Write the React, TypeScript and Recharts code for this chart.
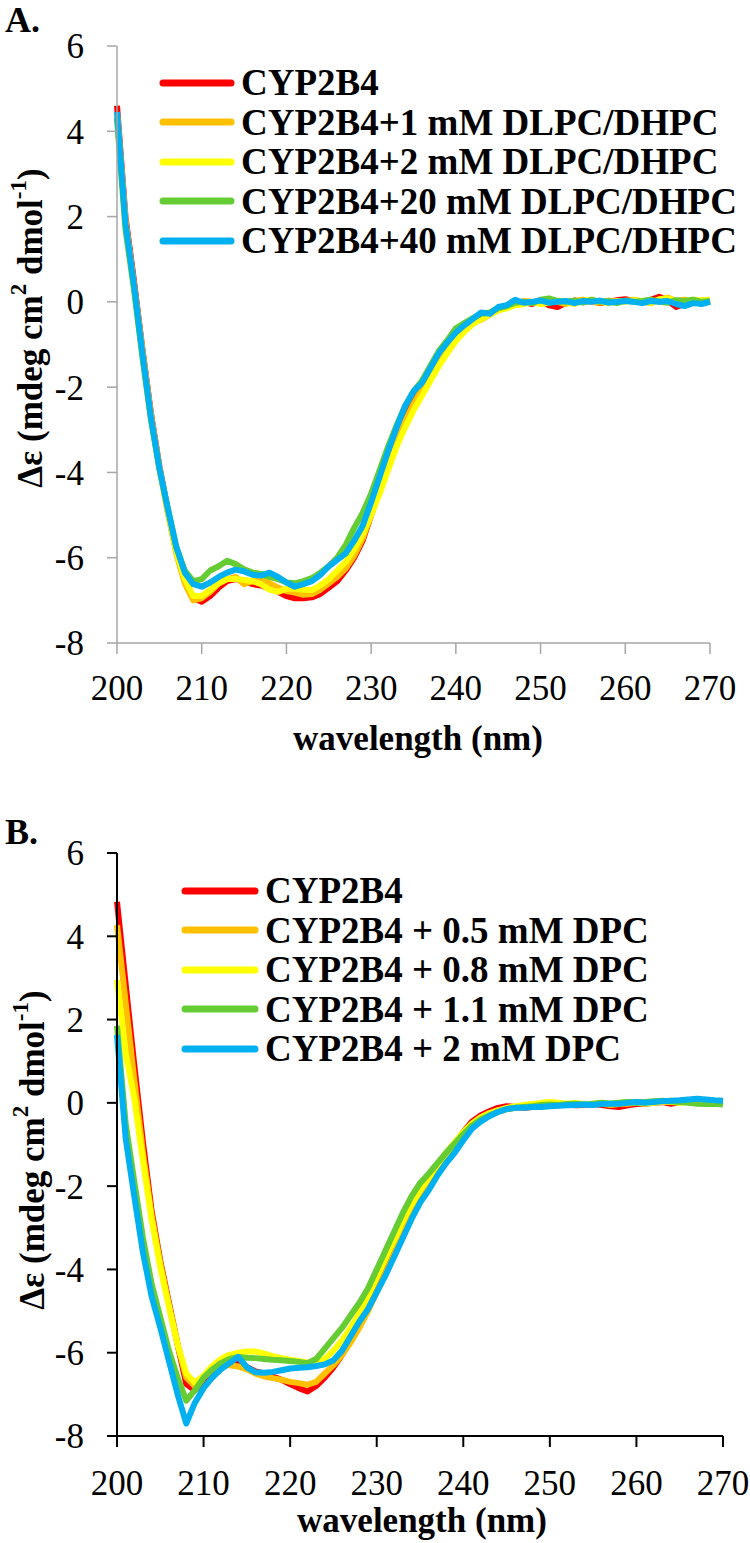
import React from 'react';
import { LineChart, Line, XAxis, YAxis, Legend, Label } from 'recharts';

// wavelength grid, 1 nm steps
const wavelengths = [
  200, 201, 202, 203, 204, 205, 206, 207, 208, 209, 210, 211, 212, 213, 214, 215, 216, 217, 218, 219,
  220, 221, 222, 223, 224, 225, 226, 227, 228, 229, 230, 231, 232, 233, 234, 235, 236, 237, 238, 239,
  240, 241, 242, 243, 244, 245, 246, 247, 248, 249, 250, 251, 252, 253, 254, 255, 256, 257, 258, 259,
  260, 261, 262, 263, 264, 265, 266, 267, 268, 269, 270,
];
const xTicks = [200, 210, 220, 230, 240, 250, 260, 270];
const yTicks = [-8, -6, -4, -2, 0, 2, 4, 6];

// Panel A - DLPC/DHPC bicelles
const namesA = [
  'CYP2B4',
  'CYP2B4+1 mM DLPC/DHPC',
  'CYP2B4+2 mM DLPC/DHPC',
  'CYP2B4+20 mM DLPC/DHPC',
  'CYP2B4+40 mM DLPC/DHPC',
];
const redA = [
  4.6, 2.0, 0.5, -1.1, -2.6, -3.85, -4.9, -5.85, -6.55, -6.95, -7.03, -6.9, -6.7, -6.55, -6.5, -6.55, -6.62, -6.65, -6.72, -6.8,
  -6.9, -6.95, -6.95, -6.93, -6.85, -6.7, -6.55, -6.3, -6.0, -5.6, -5.0, -4.35, -3.75, -3.25, -2.75, -2.35, -2.0, -1.7, -1.4, -1.1,
  -0.85, -0.65, -0.5, -0.38, -0.28, -0.18, -0.12, -0.05, 0.0, -0.05, 0.02, -0.08, -0.12, -0.02, 0.03, 0.0, 0.02, -0.03, 0.0, 0.04,
  0.06, 0.02, 0.0, 0.05, 0.12, 0.03, -0.12, -0.05, 0.02, 0.0, 0.02,
];
const orangeA = [
  4.4, 1.9, 0.4, -1.15, -2.65, -3.9, -4.95, -5.9, -6.6, -7.0, -6.95, -6.8, -6.6, -6.5, -6.45, -6.62, -6.55, -6.5, -6.6, -6.7,
  -6.78, -6.82, -6.87, -6.85, -6.75, -6.6, -6.45, -6.25, -5.95, -5.55, -5.0, -4.4, -3.8, -3.3, -2.8, -2.4, -2.05, -1.75, -1.45, -1.1,
  -0.85, -0.62, -0.48, -0.42, -0.3, -0.2, -0.1, -0.05, 0.02, 0.0, -0.03, 0.02, 0.0, -0.05, 0.02, 0.05, 0.0, -0.02, 0.03, 0.0,
  0.02, 0.05, 0.0, -0.03, 0.05, 0.1, 0.02, 0.05, 0.0, 0.03, 0.05,
];
const yellowA = [
  4.4, 1.85, 0.35, -1.2, -2.7, -3.9, -4.9, -5.85, -6.5, -6.9, -6.9, -6.75, -6.6, -6.5, -6.5, -6.52, -6.55, -6.62, -6.75, -6.8,
  -6.73, -6.72, -6.75, -6.76, -6.65, -6.5, -6.3, -6.1, -5.8, -5.45, -5.0, -4.5, -3.95, -3.4, -2.95, -2.55, -2.2, -1.85, -1.5, -1.2,
  -0.92, -0.7, -0.52, -0.4, -0.3, -0.2, -0.15, -0.08, -0.05, 0.0, -0.05, -0.02, 0.03, 0.0, -0.05, 0.02, 0.05, 0.0, -0.03, 0.02,
  0.0, 0.04, 0.02, -0.02, 0.06, 0.08, 0.02, 0.0, 0.05, 0.03, 0.05,
];
const greenA = [
  4.3, 1.7, 0.3, -1.3, -2.75, -3.9, -4.85, -5.75, -6.3, -6.55, -6.5, -6.3, -6.2, -6.07, -6.15, -6.27, -6.35, -6.38, -6.45, -6.5,
  -6.58, -6.6, -6.55, -6.48, -6.35, -6.2, -6.0, -5.7, -5.3, -4.95, -4.5, -3.95, -3.4, -2.9, -2.45, -2.1, -1.85, -1.5, -1.15, -0.9,
  -0.62, -0.5, -0.38, -0.28, -0.25, -0.15, -0.1, -0.02, 0.0, -0.03, 0.05, 0.08, 0.02, 0.0, 0.03, -0.02, 0.05, 0.0, 0.02, -0.03,
  0.03, 0.0, 0.02, 0.05, 0.0, -0.02, 0.04, 0.02, 0.05, 0.0, 0.02,
];
const blueA = [
  4.45, 1.85, 0.4, -1.2, -2.7, -3.9, -4.85, -5.75, -6.35, -6.62, -6.68, -6.58, -6.45, -6.35, -6.28, -6.32, -6.4, -6.42, -6.35, -6.45,
  -6.58, -6.68, -6.62, -6.55, -6.4, -6.2, -6.05, -5.9, -5.6, -5.25, -4.7, -4.1, -3.5, -2.95, -2.45, -2.1, -1.9, -1.55, -1.2, -0.95,
  -0.72, -0.55, -0.4, -0.25, -0.28, -0.12, -0.08, 0.05, -0.02, 0.0, 0.03, -0.02, 0.0, 0.02, -0.03, 0.02, 0.0, 0.03, -0.02, 0.0,
  0.02, 0.0, -0.03, 0.02, 0.0, 0.02, -0.05, -0.1, -0.03, -0.05, 0.0,
];

// Panel B - DPC micelles
const namesB = [
  'CYP2B4',
  'CYP2B4 + 0.5 mM DPC',
  'CYP2B4 + 0.8 mM DPC',
  'CYP2B4 + 1.1 mM DPC',
  'CYP2B4 + 2 mM DPC',
];
const redB = [
  4.83, 2.85, 0.9, -0.95, -2.6, -3.8, -4.8, -5.8, -6.75, -6.9, -6.7, -6.45, -6.3, -6.25, -6.25, -6.35, -6.45, -6.5, -6.57, -6.65,
  -6.75, -6.85, -6.93, -6.8, -6.6, -6.35, -6.05, -5.7, -5.35, -4.95, -4.5, -4.05, -3.6, -3.1, -2.7, -2.3, -1.95, -1.6, -1.3, -1.0,
  -0.7, -0.45, -0.3, -0.2, -0.12, -0.08, -0.1, -0.12, -0.1, -0.08, -0.06, -0.05, -0.04, -0.06, -0.05, -0.03, -0.05, -0.08, -0.1, -0.06,
  -0.03, -0.02, 0.0, 0.02, -0.02, 0.02, 0.05, 0.03, 0.05, 0.04, 0.03,
];
const orangeB = [
  4.27, 2.4, 0.55, -1.2, -2.7, -3.85, -4.85, -5.8, -6.6, -6.8, -6.6, -6.4, -6.3, -6.3, -6.33, -6.4, -6.5, -6.57, -6.61, -6.65,
  -6.7, -6.73, -6.77, -6.7, -6.5, -6.3, -6.05, -5.75, -5.4, -5.0, -4.55, -4.1, -3.65, -3.15, -2.75, -2.35, -2.0, -1.65, -1.35, -1.05,
  -0.75, -0.5, -0.35, -0.25, -0.18, -0.15, -0.12, -0.1, -0.1, -0.06, -0.05, -0.06, -0.03, -0.05, -0.02, -0.04, -0.02, -0.05, -0.03, -0.02,
  0.0, 0.02, 0.0, 0.02, 0.05, 0.02, 0.03, 0.05, 0.03, 0.02, 0.03,
];
const yellowB = [
  2.95, 1.2, 0.1, -1.4, -2.8, -3.95, -4.9, -5.8, -6.5, -6.72, -6.55, -6.32, -6.15, -6.05, -6.0, -5.97, -5.97, -6.02, -6.08, -6.13,
  -6.17, -6.2, -6.24, -6.25, -6.15, -5.95, -5.7, -5.4, -5.05, -4.65, -4.2, -3.75, -3.3, -2.85, -2.45, -2.1, -1.8, -1.5, -1.2, -0.95,
  -0.7, -0.5, -0.35, -0.25, -0.18, -0.12, -0.08, -0.05, -0.03, 0.0, 0.02, 0.0, -0.02, 0.0, -0.03, -0.02, 0.0, -0.02, 0.0, 0.02,
  0.0, -0.02, 0.0, 0.03, 0.02, 0.0, 0.02, 0.0, 0.02, 0.0, 0.0,
];
const greenB = [
  1.85, -0.5, -1.9, -3.25, -4.35, -5.15, -5.95, -6.6, -7.15, -6.9, -6.6, -6.4, -6.25, -6.15, -6.1, -6.12, -6.13, -6.15, -6.17, -6.18,
  -6.2, -6.22, -6.25, -6.15, -5.9, -5.65, -5.4, -5.1, -4.8, -4.45, -4.0, -3.55, -3.1, -2.65, -2.25, -1.93, -1.7, -1.45, -1.2, -0.98,
  -0.75, -0.55, -0.4, -0.3, -0.22, -0.15, -0.12, -0.1, -0.08, -0.05, -0.04, -0.05, -0.03, -0.02, -0.04, -0.02, 0.0, -0.02, 0.0, 0.02,
  0.0, 0.02, 0.04, 0.05, 0.03, 0.02, 0.0, -0.02, -0.03, -0.02, -0.04,
];
const blueB = [
  1.63, -0.85, -2.25, -3.6, -4.65, -5.4, -6.2, -7.0, -7.7, -7.2, -6.85, -6.6, -6.4, -6.25, -6.1, -6.35, -6.47, -6.48, -6.46, -6.42,
  -6.38, -6.36, -6.35, -6.32, -6.28, -6.18, -5.95, -5.6, -5.25, -4.95, -4.55, -4.15, -3.7, -3.25, -2.8, -2.4, -2.1, -1.75, -1.45, -1.2,
  -0.9, -0.62, -0.45, -0.32, -0.22, -0.15, -0.12, -0.12, -0.1, -0.1, -0.08, -0.07, -0.06, -0.05, -0.04, -0.05, -0.03, -0.02, -0.02, 0.0,
  0.02, 0.0, 0.02, 0.04, 0.05, 0.06, 0.08, 0.1, 0.08, 0.06, 0.05,
];

const colors = ['#FF0000', '#FFC000', '#FFFF00', '#66CC33', '#00B0F0'];
const keys = ['s0', 's1', 's2', 's3', 's4'];

const buildRows = (series: number[][]) =>
  wavelengths.map((wl, i) => {
    const row: Record<string, number> = { wl };
    series.forEach((s, k) => (row[keys[k]] = s[i]));
    return row;
  });

const dataA = buildRows([redA, orangeA, yellowA, greenA, blueA]);
const dataB = buildRows([redB, orangeB, yellowB, greenB, blueB]);

const SERIF = '"Liberation Serif", "Times New Roman", serif';

// custom legend: short thick line + bold label
const makeLegend = (names: string[], lineW: number) => () => (
  <div style={{ fontFamily: SERIF, fontWeight: 'bold', fontSize: 37 }}>
    {names.map((n, i) => (
      <div key={n} style={{ display: 'flex', alignItems: 'center', height: 39.5, lineHeight: '39.5px' }}>
        <svg width={lineW} height={10} style={{ marginRight: 6 }}>
          <line x1={4} y1={5} x2={lineW - 4} y2={5} stroke={colors[i]} strokeWidth={7} strokeLinecap="round" />
        </svg>
        <span style={{ whiteSpace: 'nowrap' }}>{n}</span>
      </div>
    ))}
  </div>
);

const YTitle = ({ cx, cy }: { cx: number; cy: number }) => (
  <text
    x={cx}
    y={cy}
    transform={`rotate(-90, ${cx}, ${cy})`}
    textAnchor="middle"
    dominantBaseline="central"
    fontFamily={SERIF}
    fontWeight="bold"
    fontSize={35}
    fill="#000"
  >
    Δε (mdeg cm
    <tspan dy={-12} fontSize={23}>2</tspan>
    <tspan dy={12}> dmol</tspan>
    <tspan dy={-12} fontSize={23}>-1</tspan>
    <tspan dy={12}>)</tspan>
  </text>
);

const XTitle = ({ cx, cy }: { cx: number; cy: number }) => (
  <text x={cx} y={cy} textAnchor="middle" dominantBaseline="central" fontFamily={SERIF} fontWeight="bold" fontSize={35} fill="#000">
    wavelength (nm)
  </text>
);

interface PanelProps {
  data: Record<string, number>[];
  names: string[];
  height: number;
  margin: { top: number; right: number; left: number; bottom: number };
  axisColor: string;
  axisWidth: number;
  xTickMargin: number;
  legendPos: { left: number; top: number };
  legendLineW: number;
  yTitle: { cx: number; cy: number };
  xTitle: { cx: number; cy: number };
}

// note: XAxis height (30) and YAxis width (60) are added to the margins
const Panel = (p: PanelProps) => (
  <LineChart width={750} height={p.height} data={p.data} margin={p.margin}>
    <XAxis
      dataKey="wl"
      type="number"
      domain={[200, 270]}
      ticks={xTicks}
      interval={0}
      height={30}
      tickSize={11}
      tickMargin={p.xTickMargin}
      stroke={p.axisColor}
      strokeWidth={p.axisWidth}
      tick={{ fontSize: 35, fill: '#000', fontFamily: SERIF }}
    >
      <Label content={() => <XTitle {...p.xTitle} />} />
    </XAxis>
    <YAxis
      type="number"
      domain={[-8, 6]}
      ticks={yTicks}
      interval={0}
      width={60}
      tickSize={10}
      tickMargin={23}
      stroke={p.axisColor}
      strokeWidth={p.axisWidth}
      tick={{ fontSize: 35, fill: '#000', fontFamily: SERIF }}
    >
      <Label content={() => <YTitle {...p.yTitle} />} />
    </YAxis>
    {/* vertical + center + middle: legend takes no space from the plot */}
    <Legend
      layout="vertical"
      align="center"
      verticalAlign="middle"
      content={makeLegend(p.names, p.legendLineW)}
      wrapperStyle={{ position: 'absolute', left: p.legendPos.left, top: p.legendPos.top, width: 'auto' }}
    />
    {keys.map((k, i) => (
      <Line
        key={k}
        dataKey={k}
        type="linear"
        stroke={colors[i]}
        strokeWidth={6}
        strokeLinejoin="round"
        dot={false}
        isAnimationActive={false}
      />
    ))}
  </LineChart>
);

const panelLetter: React.CSSProperties = {
  position: 'absolute',
  left: 5,
  fontFamily: SERIF,
  fontWeight: 'bold',
  fontSize: 36,
  lineHeight: '36px',
};

export default function App() {
  return (
    <div style={{ position: 'absolute', left: 0, top: 0, width: 750, height: 1543, background: '#fff' }}>
      <div style={{ position: 'absolute', left: 0, top: 0 }}>
        <Panel
          data={dataA}
          names={namesA}
          height={770}
          margin={{ top: 46, right: 40, left: 57, bottom: 97 }}
          axisColor="#a6a6a6"
          axisWidth={1.5}
          xTickMargin={21}
          legendPos={{ left: 159, top: 63 }}
          legendLineW={76}
          yTitle={{ cx: 30, cy: 328 }}
          xTitle={{ cx: 418, cy: 738 }}
        />
      </div>
      <div style={{ position: 'absolute', left: 0, top: 770 }}>
        <Panel
          data={dataB}
          names={namesB}
          height={773}
          margin={{ top: 83, right: 27, left: 57, bottom: 77 }}
          axisColor="#000"
          axisWidth={2}
          xTickMargin={23}
          legendPos={{ left: 181, top: 101 }}
          legendLineW={78}
          yTitle={{ cx: 32, cy: 380 }}
          xTitle={{ cx: 422, cy: 750 }}
        />
      </div>
      <div style={{ ...panelLetter, top: 2 }}>A.</div>
      <div style={{ ...panelLetter, top: 814 }}>B.</div>
    </div>
  );
}
